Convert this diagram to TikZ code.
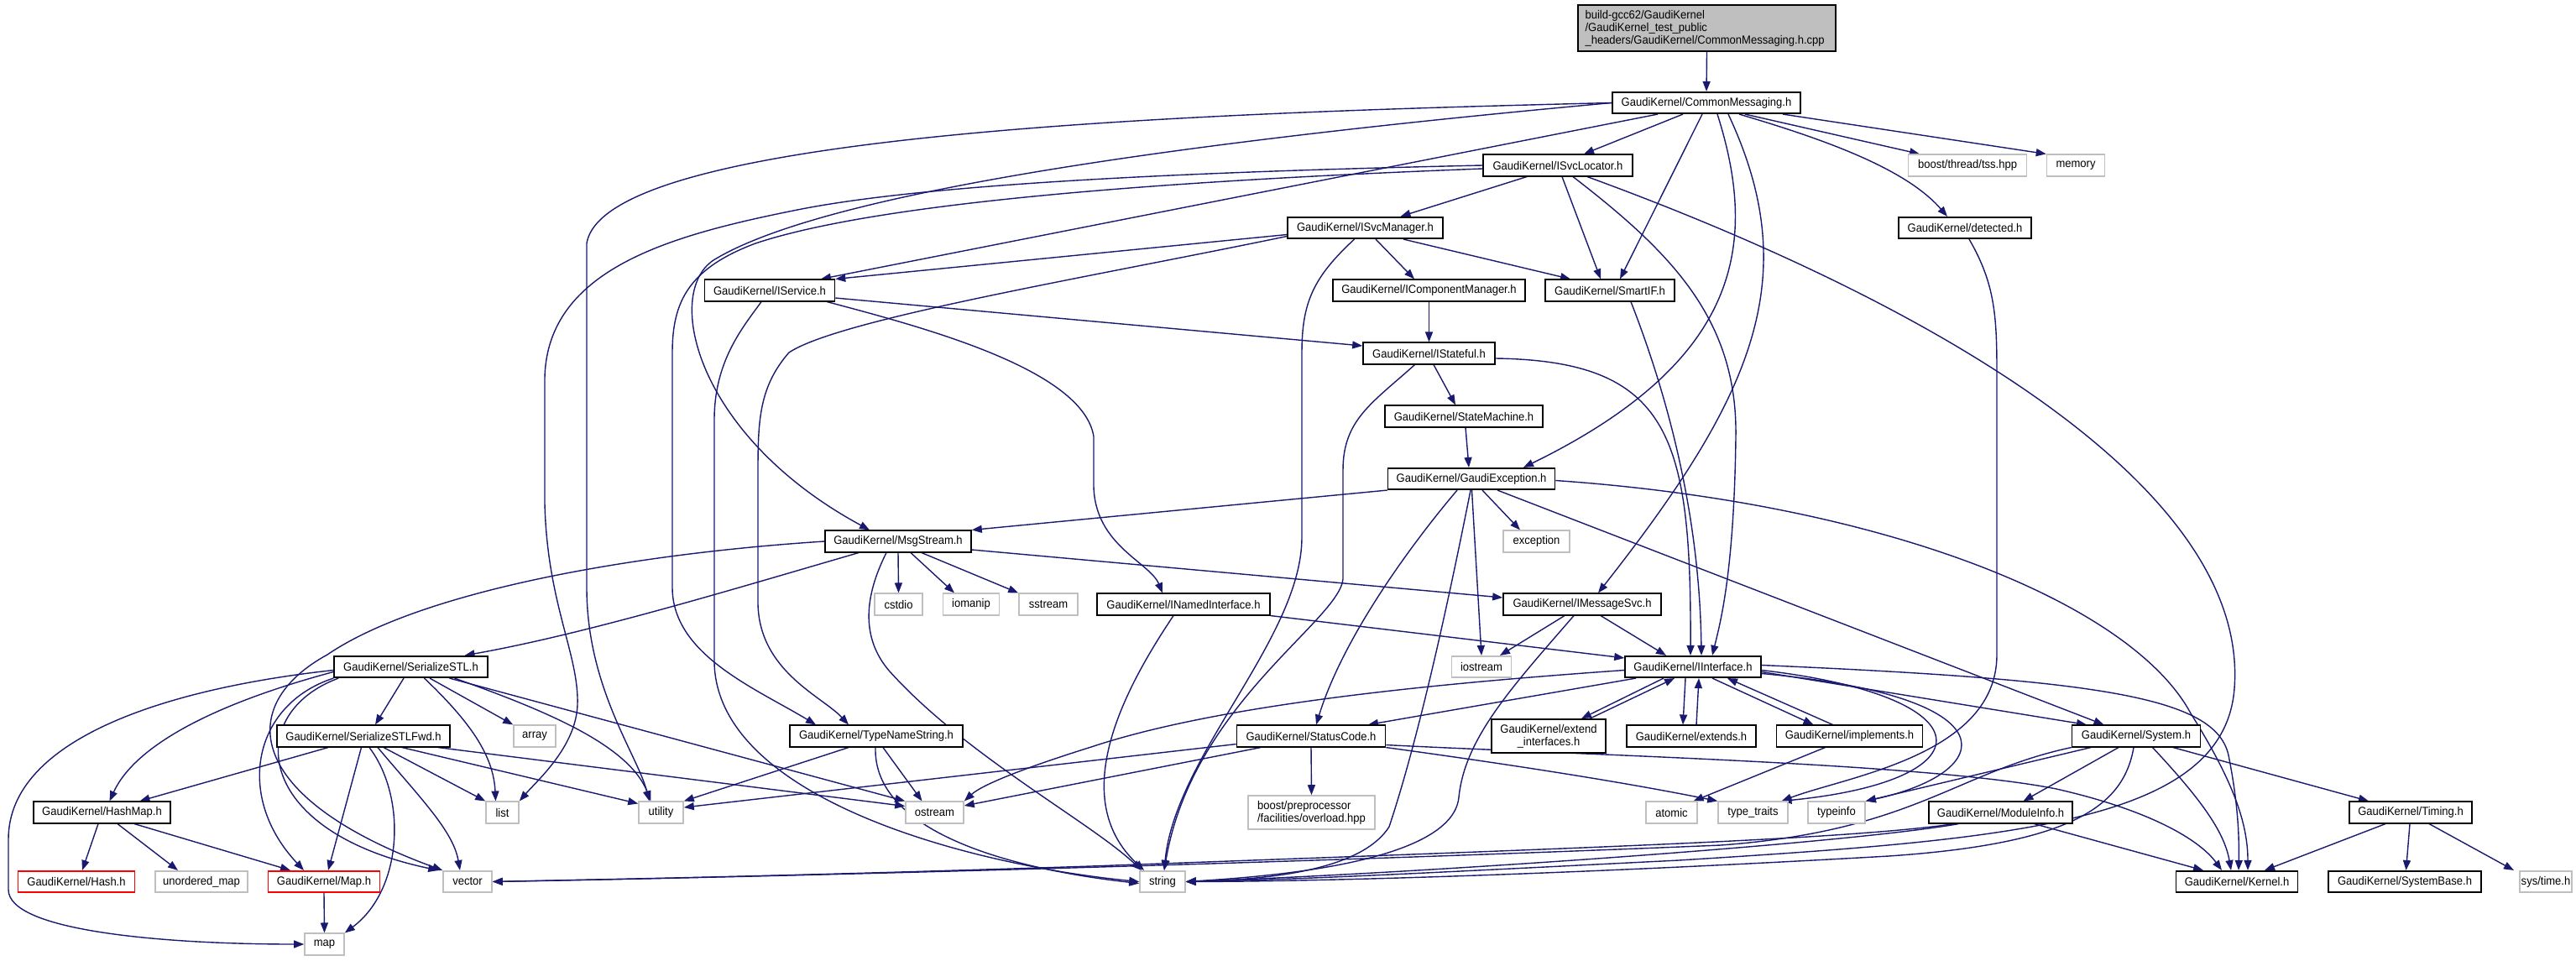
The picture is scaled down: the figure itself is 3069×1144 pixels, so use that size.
\documentclass[tikz,border=0pt]{standalone}
\usepackage{fontspec}
\setmainfont{Liberation Sans}[FakeStretch=0.93]
\usetikzlibrary{arrows.meta}
\definecolor{edgeblue}{RGB}{25,25,112}
\definecolor{extgray}{RGB}{191,191,191}
\pgfdeclarelayer{background}
\pgfsetlayers{background,main}
\begin{document}
\begin{tikzpicture}[x=1pt,y=-1pt,
  box/.style={rectangle, inner sep=0pt, minimum height=25.5pt, line width=1.6pt, font=\fontsize{14}{15}\selectfont},
  hdr/.style={box, draw=black, fill=white},
  ext/.style={box, draw=extgray, fill=white},
  trunc/.style={box, draw=red, fill=white},
  e/.style={draw=edgeblue, line width=1.4pt, -{Triangle[length=12pt,width=9pt]}}]
\useasboundingbox (0,0) rectangle (3069,1144);

% ---------------- nodes ----------------
\node[hdr, fill=extgray, minimum width=307pt, minimum height=55pt, text width=290pt, inner xsep=8.5pt, align=left] (root) at (2033.5,33.5)
  {build-gcc62/GaudiKernel\\/GaudiKernel\_test\_public\\\_headers/GaudiKernel/CommonMessaging.h.cpp};
\node[hdr, minimum width=224pt] (CM) at (2033,122.5) {GaudiKernel/CommonMessaging.h};
\node[hdr, minimum width=178pt] (SL) at (1856,197) {GaudiKernel/ISvcLocator.h};
\node[ext, minimum width=141pt] (tss) at (2344,197) {boost/thread/tss.hpp};
\node[ext, minimum width=69pt] (memory) at (2473,197) {memory};
\node[hdr, minimum width=185pt] (SM) at (1626.5,271.5) {GaudiKernel/ISvcManager.h};
\node[hdr, minimum width=158pt] (det) at (2341,271.5) {GaudiKernel/detected.h};
\node[hdr, minimum width=155pt] (IS) at (917,346) {GaudiKernel/IService.h};
\node[hdr, minimum width=229pt] (ICM) at (1702.5,346) {GaudiKernel/IComponentManager.h};
\node[hdr, minimum width=154pt] (SIF) at (1918,346) {GaudiKernel/SmartIF.h};
\node[hdr, minimum width=157pt] (IST) at (1702.5,421) {GaudiKernel/IStateful.h};
\node[hdr, minimum width=188pt] (STM) at (1744,496) {GaudiKernel/StateMachine.h};
\node[hdr, minimum width=199pt] (GE) at (1753,570.5) {GaudiKernel/GaudiException.h};
\node[hdr, minimum width=174pt] (MS) at (1070,645) {GaudiKernel/MsgStream.h};
\node[ext, minimum width=79pt] (exc) at (1830.5,645) {exception};
\node[ext, minimum width=57pt] (cstdio) at (1070.5,720) {cstdio};
\node[ext, minimum width=67pt] (iomanip) at (1157,720) {iomanip};
\node[ext, minimum width=70pt] (sstream) at (1249,720) {sstream};
\node[hdr, minimum width=206pt] (INI) at (1410,720) {GaudiKernel/INamedInterface.h};
\node[hdr, minimum width=188pt] (IMS) at (1885,720) {GaudiKernel/IMessageSvc.h};
\node[hdr, minimum width=183pt] (SSTL) at (489.5,794.5) {GaudiKernel/SerializeSTL.h};
\node[ext, minimum width=71pt] (iostream) at (1765,794.5) {iostream};
\node[hdr, minimum width=162pt] (II) at (2017,794.5) {GaudiKernel/IInterface.h};
\node[hdr, minimum width=206pt] (SSF) at (433,877) {GaudiKernel/SerializeSTLFwd.h};
\node[ext, minimum width=50pt] (array) at (637,877) {array};
\node[hdr, minimum width=206pt] (TNS) at (1044,877) {GaudiKernel/TypeNameString.h};
\node[hdr, minimum width=177pt] (SC) at (1562,877) {GaudiKernel/StatusCode.h};
\node[hdr, minimum width=136pt, minimum height=40pt, align=center] (EI) at (1845,877) {GaudiKernel/extend\\\_interfaces.h};
\node[hdr, minimum width=154pt] (EXT) at (2015,877) {GaudiKernel/extends.h};
\node[hdr, minimum width=174pt] (IMP) at (2203.5,877) {GaudiKernel/implements.h};
\node[hdr, minimum width=153pt] (SYS) at (2545,877) {GaudiKernel/System.h};
\node[hdr, minimum width=163pt] (HM) at (121.5,968) {GaudiKernel/HashMap.h};
\node[ext, minimum width=39pt] (list) at (598.5,968) {list};
\node[ext, minimum width=53pt] (utility) at (787.5,968) {utility};
\node[ext, minimum width=69pt] (ostream) at (1113.5,968) {ostream};
\node[ext, minimum width=151pt, minimum height=40pt, align=left] (BPO) at (1562.5,968) {boost/preprocessor\\/facilities/overload.hpp};
\node[ext, minimum width=61pt] (atomic) at (1991.5,968) {atomic};
\node[ext, minimum width=83pt] (tt) at (2088.5,968) {type\_traits};
\node[ext, minimum width=68pt] (typeinfo) at (2188,968) {typeinfo};
\node[hdr, minimum width=171pt] (MI) at (2383.5,968) {GaudiKernel/ModuleInfo.h};
\node[hdr, minimum width=146pt] (TIM) at (2872,968) {GaudiKernel/Timing.h};
\node[trunc, minimum width=139pt] (hash) at (91,1050.5) {GaudiKernel/Hash.h};
\node[ext, minimum width=110pt] (umap) at (240,1050.5) {unordered\_map};
\node[trunc, minimum width=133pt] (MAPH) at (386,1050.5) {GaudiKernel/Map.h};
\node[ext, minimum width=58pt] (vector) at (557,1050.5) {vector};
\node[ext, minimum width=54pt] (string) at (1385,1050.5) {string};
\node[hdr, minimum width=145pt] (KER) at (2665,1050.5) {GaudiKernel/Kernel.h};
\node[hdr, minimum width=182pt] (SB) at (2865,1050.5) {GaudiKernel/SystemBase.h};
\node[ext, minimum width=62pt] (systime) at (3033,1050.5) {sys/time.h};
\node[ext, minimum width=47pt] (map) at (386.5,1125) {map};

% ---------------- edges ----------------
\begin{pgfonlayer}{background}
\draw[e] (root.south) -- (CM.north);
% CommonMessaging
\draw[e] ([xshift=-28pt]CM.south) -- ([xshift=31pt]SL.north);
\draw[e] ([xshift=-5pt]CM.south) -- ([xshift=12pt]SIF.north);
\draw[e] ([xshift=46pt]CM.south) -- ([xshift=-57pt]tss.north);
\draw[e] ([xshift=91pt]CM.south) -- (memory.north west);
\draw[e] ([xshift=39pt]CM.south) .. controls (2170,165) and (2270,200) .. ([xshift=-21pt]det.north);
\draw[e] ([xshift=13pt]CM.south) .. controls (2095,290) and (2075,430) .. ([xshift=62pt]GE.north);
\draw[e] ([xshift=26pt]CM.south) .. controls (2150,330) and (2090,470) .. ([xshift=19pt]IMS.north);
\draw[e] (CM.west) .. controls (1400,170) and (980,230) .. (850,310) .. controls (790,350) and (830,520) .. ([xshift=-34pt]MS.north);
\draw[e] ([xshift=-58pt]CM.south) -- ([xshift=61pt]IS.north);
\draw[e] (CM.west) .. controls (1400,135) and (720,160) .. (699,290) -- (699,700) .. controls (699,820) and (760,900) .. ([xshift=-14pt]utility.north);
% ISvcLocator
\draw[e] ([xshift=-37pt]SL.south) -- ([xshift=42pt]SM.north);
\draw[e] ([xshift=5pt]SL.south) -- ([xshift=-11pt]SIF.north);
\draw[e] ([xshift=18pt]SL.south) .. controls (1990,300) and (2070,380) .. (2068,520) .. controls (2066,680) and (2050,740) .. ([xshift=23pt]II.north);
\draw[e] (SL.west) .. controls (1400,205) and (1100,220) .. (950,250) .. controls (800,280) and (652,320) .. (649,450) -- (649,600) .. controls (652,720) and (690,780) .. (688,840) .. controls (686,890) and (640,930) .. (list.north east);
\draw[e] ([yshift=-4pt]SL.west) .. controls (1400,215) and (1050,240) .. (900,290) .. controls (820,320) and (801,360) .. (801,420) -- (801,700) .. controls (801,780) and (900,820) .. ([xshift=-72pt]TNS.north);
\draw[e] ([xshift=35pt]SL.south) .. controls (2300,360) and (2680,580) .. (2662,820) .. controls (2650,980) and (2400,1000) .. (2000,1025) .. controls (1700,1040) and (1550,1048) .. (string.east);
% ISvcManager
\draw[e] ([yshift=-8pt]SM.west) -- (IS.north east);
\draw[e] ([yshift=-10pt]SM.west) .. controls (1300,330) and (1000,380) .. (940,420) .. controls (905,460) and (903,500) .. (903,560) -- (903,720) .. controls (905,800) and (980,830) .. ([xshift=-33pt]TNS.north);
\draw[e] ([xshift=-13pt]SM.south) .. controls (1565,330) and (1551,360) .. (1551,420) -- (1551,640) .. controls (1551,760) and (1400,900) .. ([xshift=2pt]string.north);
\draw[e] ([xshift=12.5pt]SM.south) -- ([xshift=-17.5pt]ICM.north);
\draw[e] ([xshift=45.5pt]SM.south) -- ([xshift=-47pt]SIF.north);
% IService
\draw[e] ([yshift=-9pt]IS.east) -- ([yshift=9pt]IST.west);
\draw[e] ([xshift=-10pt]IS.south east) .. controls (1100,390) and (1290,440) .. (1303,520) -- (1303,580) .. controls (1305,650) and (1370,670) .. ([xshift=-25pt]INI.north);
\draw[e] ([xshift=-10pt]IS.south) .. controls (885,390) and (851,430) .. (851,500) -- (851,790) .. controls (855,950) and (1150,1030) .. (string.west);
% IComponentManager / IStateful / StateMachine
\draw[e] (ICM.south) -- (IST.north);
\draw[e] ([xshift=5.5pt]IST.south) -- ([xshift=-10pt]STM.north);
\draw[e] ([yshift=-6pt]IST.east) .. controls (1990,430) and (2015,520) .. ([xshift=-3pt]II.north);
\draw[e] ([xshift=-17pt]IST.south) .. controls (1635,480) and (1600,500) .. (1600,560) -- (1600,690) .. controls (1595,740) and (1420,840) .. ([xshift=2pt]string.north);
\draw[e] ([xshift=2pt]STM.south) -- ([xshift=-3pt]GE.north);
% GaudiException
\draw[e] (GE.south west) -- (MS.north east);
\draw[e] ([xshift=-17pt]GE.south) .. controls (1680,650) and (1600,760) .. ([xshift=6pt]SC.north);
\draw[e] ([xshift=-1pt]GE.south) .. controls (1725,720) and (1690,880) .. (1655,985) .. controls (1620,1040) and (1500,1048) .. (string.east);
\draw[e] ([xshift=0.5pt]GE.south) -- (iostream.north);
\draw[e] ([xshift=13pt]GE.south) -- ([xshift=-19.5pt]exc.north);
\draw[e] ([xshift=31pt]GE.south) -- ([xshift=-38.5pt]SYS.north);
\draw[e] ([yshift=-2pt]GE.east) .. controls (2250,600) and (2540,720) .. (2610,850) .. controls (2660,930) and (2678,980) .. ([xshift=13pt]KER.north);
% MsgStream
\draw[e] ([xshift=-47pt]MS.south) .. controls (880,700) and (700,755) .. ([xshift=64pt]SSTL.north);
\draw[e] (MS.west) .. controls (750,660) and (500,705) .. (390,780) .. controls (280,840) and (290,950) .. (vector.north west);
\draw[e] (MS.south) -- (cstdio.north);
\draw[e] ([xshift=15pt]MS.south) -- ([xshift=-20pt]iomanip.north);
\draw[e] ([xshift=28pt]MS.south) -- (sstream.north west);
\draw[e] ([yshift=-10pt]MS.east) -- ([yshift=8pt]IMS.west);
\draw[e] ([xshift=-14pt]MS.south) .. controls (1030,710) and (1025,760) .. (1060,800) .. controls (1150,900) and (1300,980) .. ([xshift=-25pt]string.north);
% INamedInterface / IMessageSvc / SmartIF / detected
\draw[e] (INI.south east) -- ([yshift=-3pt]II.north west);
\draw[e] ([xshift=-12pt]INI.south) .. controls (1340,820) and (1270,950) .. ([xshift=-22pt]string.north);
\draw[e] ([xshift=-21pt]IMS.south) -- ([xshift=22pt]iostream.north);
\draw[e] ([xshift=-10pt]IMS.south) .. controls (1800,820) and (1745,880) .. (1738,950) .. controls (1730,1030) and (1500,1045) .. (string.east);
\draw[e] ([xshift=22pt]IMS.south) -- ([xshift=-32pt]II.north);
\draw[e] ([xshift=25pt]SIF.south) .. controls (1990,480) and (2025,620) .. ([xshift=10pt]II.north);
\draw[e] ([xshift=5pt]det.south) .. controls (2378,340) and (2379,380) .. (2379,450) -- (2379,780) .. controls (2379,900) and (2200,925) .. ([xshift=34pt]tt.north);
% SerializeSTL
\draw[e] ([yshift=-4pt]SSTL.west) .. controls (200,820) and (10,880) .. (10,1000) -- (10,1060) .. controls (10,1110) and (200,1125) .. (map.west);
\draw[e] ([yshift=-6pt]SSTL.west) .. controls (250,840) and (160,890) .. ([xshift=9pt]HM.north);
\draw[e] (SSTL.south west) .. controls (300,840) and (280,950) .. ([xshift=-24pt]MAPH.north);
\draw[e] ([xshift=6pt]SSTL.south west) .. controls (290,850) and (300,990) .. ([xshift=-5pt]vector.north west);
\draw[e] ([xshift=-8.5pt]SSTL.south) -- ([xshift=14pt]SSF.north);
\draw[e] ([xshift=16pt]SSTL.south) .. controls (560,860) and (588,900) .. ([xshift=-8pt]list.north);
\draw[e] ([xshift=22.5pt]SSTL.south) -- (array.north west);
\draw[e] ([xshift=52pt]SSTL.south) .. controls (660,850) and (750,890) .. ([xshift=-12pt]utility.north);
\draw[e] ([xshift=46pt]SSTL.south) -- (ostream.north west);
% SerializeSTLFwd
\draw[e] ([xshift=-42pt]SSF.south) -- ([xshift=45pt]HM.north);
\draw[e] ([xshift=-2.5pt]SSF.south) -- ([xshift=5pt]MAPH.north);
\draw[e] ([xshift=7pt]SSF.south) .. controls (485,950) and (480,1060) .. (map.north east);
\draw[e] ([xshift=17pt]SSF.south) .. controls (500,950) and (540,990) .. ([xshift=-9pt]vector.north);
\draw[e] ([xshift=24pt]SSF.south) -- (list.north west);
\draw[e] ([xshift=46pt]SSF.south) -- ([yshift=-3pt]utility.north west);
\draw[e] ([xshift=89pt]SSF.south) -- ([yshift=-6pt]ostream.north west);
% HashMap / Map
\draw[e] ([xshift=-4.5pt]HM.south) -- ([xshift=7pt]hash.north);
\draw[e] ([xshift=18.5pt]HM.south) -- ([xshift=-28pt]umap.north);
\draw[e] ([xshift=38.5pt]HM.south) -- ([xshift=-40pt]MAPH.north);
\draw[e] (MAPH.south) -- (map.north);
% TypeNameString
\draw[e] ([xshift=-33pt]TNS.south) -- (utility.north east);
\draw[e] ([xshift=8pt]TNS.south) -- ([xshift=-15pt]ostream.north);
\draw[e] ([xshift=-1pt]TNS.south) .. controls (1040,990) and (1200,1035) .. ([yshift=-2pt]string.west);
% StatusCode
\draw[e] ([yshift=4pt]SC.south west) -- ([yshift=6pt]utility.east);
\draw[e] ([xshift=-60pt]SC.south) -- ([yshift=8pt]ostream.east);
\draw[e] (SC.south) -- (BPO.north);
\draw[e] (SC.south east) .. controls (1830,915) and (1950,935) .. (tt.north west);
\draw[e] ([yshift=3pt]SC.south east) .. controls (1900,900) and (2300,910) .. (2450,940) .. controls (2560,965) and (2620,1000) .. ([xshift=-18pt]KER.north);
% IInterface
\draw[e] ([yshift=-4pt]II.west) .. controls (1700,815) and (1450,840) .. (1300,890) .. controls (1220,915) and (1170,935) .. (ostream.north east);
\draw[e] ([xshift=-68pt]II.south) -- ([xshift=68pt]SC.north);
\draw[e] ([xshift=-35pt]II.south) -- ([xshift=39pt]EI.north);
\draw[e] ([xshift=49pt]EI.north) -- ([xshift=-22pt]II.south);
\draw[e] ([xshift=-9pt]II.south) -- ([xshift=-10pt]EXT.north);
\draw[e] ([xshift=6pt]EXT.north) -- ([xshift=7pt]II.south);
\draw[e] ([xshift=23pt]II.south) -- ([xshift=-43pt]IMP.north);
\draw[e] ([xshift=-20pt]IMP.north) -- ([xshift=41pt]II.south);
\draw[e] ([yshift=-4pt]II.east) .. controls (2370,830) and (2370,930) .. ([xshift=34pt]tt.north);
\draw[e] ([yshift=-8pt]II.east) .. controls (2400,830) and (2380,920) .. (typeinfo.north east);
\draw[e] ([yshift=-6pt]II.east) -- ([xshift=-59pt]SYS.north);
\draw[e] ([yshift=2pt]II.east) .. controls (2500,810) and (2640,830) .. (2655,900) .. controls (2665,950) and (2668,990) .. ([xshift=2pt]KER.north);
\draw[e] ([xshift=-29pt]IMP.south) -- ([xshift=26pt]atomic.north);
% System
\draw[e] ([xshift=-54pt]SYS.south) -- (typeinfo.north east);
\draw[e] ([xshift=-21pt]SYS.south) -- ([xshift=27pt]MI.north);
\draw[e] ([xshift=19.5pt]SYS.south) .. controls (2620,950) and (2650,990) .. ([xshift=-7pt]KER.north);
\draw[e] ([xshift=44pt]SYS.south) -- ([xshift=-50pt]TIM.north);
\draw[e] (SYS.south west) .. controls (2330,920) and (2280,990) .. (2050,1007) .. controls (1500,1030) and (900,1045) .. (vector.east);
\draw[e] ([xshift=-3pt]SYS.south) .. controls (2530,960) and (2470,1005) .. (2250,1020) .. controls (1900,1040) and (1600,1050) .. (string.east);
% ModuleInfo
\draw[e] ([xshift=-55pt]MI.south) .. controls (2200,1000) and (1900,1010) .. (1300,1032) .. controls (900,1045) and (700,1048) .. (vector.east);
\draw[e] ([xshift=-50pt]MI.south) .. controls (2200,1005) and (1700,1040) .. (string.east);
\draw[e] ([xshift=40pt]MI.south) -- ([xshift=-40pt]KER.north);
% Timing
\draw[e] ([xshift=-30pt]TIM.south) -- ([xshift=33pt]KER.north);
\draw[e] ([xshift=-1pt]TIM.south) -- ([xshift=1.5pt]SB.north);
\draw[e] ([xshift=22pt]TIM.south) -- ([xshift=-38pt]systime.north);
\end{pgfonlayer}
\end{tikzpicture}
\end{document}
